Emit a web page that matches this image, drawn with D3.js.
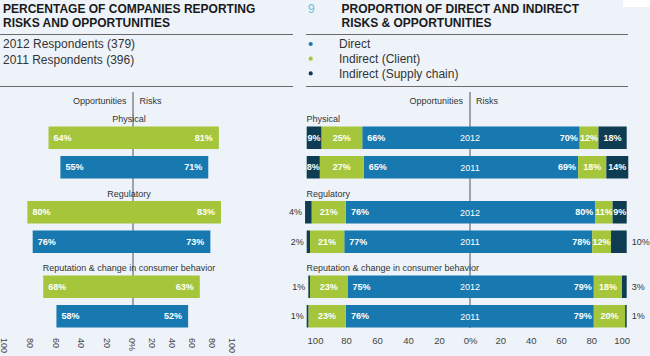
<!DOCTYPE html>
<html><head><meta charset="utf-8">
<script src="https://cdn.jsdelivr.net/npm/d3@7"></script>
<style>
html,body{margin:0;padding:0;background:#edf3f9;}
svg{display:block;font-family:"Liberation Sans",Arial,Helvetica,sans-serif;}
</style></head>
<body><svg id="c" width="650" height="356"></svg>
<script>
// ---------- DATA ----------
const categories = ["Physical", "Regulatory", "Reputation & change in consumer behavior"];
const years = ["2012", "2011"];
const respondents = ["2012 Respondents (379)", "2011 Respondents (396)"];
// Left chart: % of companies reporting
const opportunities2012 = [64, 80, 68];
const risks2012 = [81, 83, 63];
const opportunities2011 = [55, 76, 58];
const risks2011 = [71, 73, 52];
// Right chart: proportion of direct / indirect
const seriesNames = ["Direct", "Indirect (Client)", "Indirect (Supply chain)"];
const oppDirect2012 = [66, 76, 75];
const oppClient2012 = [25, 21, 23];
const oppSupply2012 = [9, 4, 1];
const oppDirect2011 = [65, 77, 76];
const oppClient2011 = [27, 21, 23];
const oppSupply2011 = [8, 2, 1];
const riskDirect2012 = [70, 80, 79];
const riskClient2012 = [12, 11, 18];
const riskSupply2012 = [18, 9, 3];
const riskDirect2011 = [69, 78, 79];
const riskClient2011 = [18, 12, 20];
const riskSupply2011 = [14, 10, 1];
const tickValues = [0, 20, 40, 60, 80, 100];

// ---------- STYLE ----------
const GREEN = "#a5c63b", BLUE = "#1779b0", NAVY = "#0e3c53";
const seriesColors = [BLUE, GREEN, NAVY];
const TXT = "#333", LINE = "#6a6a6a";

const svg = d3.select("#c");
svg.append("rect").attr("width", 650).attr("height", 356).attr("fill", "#edf3f9");
svg.append("rect").attr("x", 623).attr("y", 0).attr("width", 27).attr("height", 7).attr("fill", "#fff");

// ---------- HEADERS ----------
svg.append("text").attr("x", 3).attr("y", 13.2).attr("font-size", 12).attr("font-weight", "bold").attr("fill", "#1a1a1a").text("PERCENTAGE OF COMPANIES REPORTING");
svg.append("text").attr("x", 3).attr("y", 27.2).attr("font-size", 12).attr("font-weight", "bold").attr("fill", "#1a1a1a").text("RISKS AND OPPORTUNITIES");
[34.5, 86.5].forEach(y => svg.append("line").attr("x1", 0).attr("x2", 293).attr("y1", y).attr("y2", y).attr("stroke", LINE));
respondents.forEach((t, i) => svg.append("text").attr("x", 3).attr("y", 48 + i * 16).attr("font-size", 12).attr("fill", TXT).text(t));

svg.append("text").attr("x", 308).attr("y", 13).attr("font-size", 12).attr("fill", "#62c0d8").text("9");
svg.append("text").attr("x", 341.5).attr("y", 13).attr("font-size", 12).attr("font-weight", "bold").attr("fill", "#1a1a1a").text("PROPORTION OF DIRECT AND INDIRECT");
svg.append("text").attr("x", 341.5).attr("y", 27.2).attr("font-size", 12).attr("font-weight", "bold").attr("fill", "#1a1a1a").text("RISKS & OPPORTUNITIES");
[34.5, 86.5].forEach(y => svg.append("line").attr("x1", 306).attr("x2", 628).attr("y1", y).attr("y2", y).attr("stroke", LINE));
seriesNames.forEach((t, i) => {
  const y = 44 + i * 14.7;
  svg.append("circle").attr("cx", 310.7).attr("cy", y).attr("r", 2.1).attr("fill", seriesColors[i]);
  svg.append("text").attr("x", 339).attr("y", y + 4.2).attr("font-size", 12).attr("fill", TXT).text(t);
});

// ---------- SHARED VERTICAL LAYOUT ----------
const yGroup = d3.scaleBand().domain(categories).range([112, 335.5]).paddingInner(0);
const yRow = d3.scaleBand().domain(years).range([14.5, 66.5]).paddingInner(0.237);

// ---------- LEFT CHART ----------
const LC = 133;
const xOppL = d3.scaleLinear().domain([0, 100]).range([LC, LC - 132]);
const xRiskL = d3.scaleLinear().domain([0, 100]).range([LC, LC + 106]);
const axOppL = d3.scaleLinear().domain([0, 100]).range([LC - 1, 4]);
const axRiskL = d3.scaleLinear().domain([0, 100]).range([LC - 1, 232]);

const left = svg.append("g");
left.append("line").attr("x1", LC).attr("x2", LC).attr("y1", 92).attr("y2", 327).attr("stroke", "#555");
left.append("text").attr("x", LC - 6.5).attr("y", 104).attr("text-anchor", "end").attr("font-size", 9).attr("fill", TXT).text("Opportunities");
left.append("text").attr("x", LC + 6.5).attr("y", 104).attr("font-size", 9).attr("fill", TXT).text("Risks");

const leftRows = [];
categories.forEach((c, i) => {
  leftRows.push({cat: c, year: "2012", opp: opportunities2012[i], risk: risks2012[i], color: GREEN});
  leftRows.push({cat: c, year: "2011", opp: opportunities2011[i], risk: risks2011[i], color: BLUE});
});
categories.forEach(c => {
  left.append("text").attr("x", LC - 4).attr("y", yGroup(c) + 10).attr("text-anchor", "middle").attr("font-size", 9).attr("fill", TXT).text(c);
});
leftRows.forEach(r => {
  const y = yGroup(r.cat) + yRow(r.year), h = yRow.bandwidth();
  left.append("rect").attr("x", xOppL(r.opp)).attr("y", y).attr("width", xRiskL(r.risk) - xOppL(r.opp)).attr("height", h).attr("fill", r.color);
  left.append("text").attr("x", xOppL(r.opp) + 5).attr("y", y + h / 2).attr("dy", "0.35em").attr("font-size", 9).attr("font-weight", "bold").attr("fill", "#fff").text(r.opp + "%");
  left.append("text").attr("x", xRiskL(r.risk) - 6).attr("y", y + h / 2).attr("dy", "0.35em").attr("text-anchor", "end").attr("font-size", 9).attr("font-weight", "bold").attr("fill", "#fff").text(r.risk + "%");
});

function styleRotAxis(g) {
  g.select(".domain").remove();
  g.attr("font-size", 9).attr("font-family", "Liberation Sans, Arial, sans-serif");
  g.selectAll("text").attr("fill", "#444").attr("y", 0).attr("x", 0).attr("dy", "0.35em").attr("text-anchor", "start").attr("transform", "rotate(90)");
}
left.append("g").attr("transform", "translate(0,338)")
  .call(d3.axisBottom(axOppL).tickValues(tickValues.filter(v => v > 0)).tickSize(0).tickFormat(d => d))
  .call(styleRotAxis);
left.append("g").attr("transform", "translate(0,338)")
  .call(d3.axisBottom(axRiskL).tickValues(tickValues).tickSize(0).tickFormat(d => d === 0 ? "0%" : d))
  .call(styleRotAxis);

// ---------- RIGHT CHART ----------
const RC = 470;
const xOppR = d3.scaleLinear().domain([0, 100]).range([RC, RC - 163.3]);
const xRiskR = d3.scaleLinear().domain([0, 100]).range([RC, RC + 156.7]);
const axOppR = d3.scaleLinear().domain([0, 100]).range([RC, 315]);
const axRiskR = d3.scaleLinear().domain([0, 100]).range([RC, 621.7]);

const right = svg.append("g");
right.append("line").attr("x1", RC).attr("x2", RC).attr("y1", 92).attr("y2", 328).attr("stroke", "#555");
right.append("text").attr("x", RC - 7).attr("y", 104).attr("text-anchor", "end").attr("font-size", 9).attr("fill", TXT).text("Opportunities");
right.append("text").attr("x", RC + 6).attr("y", 104).attr("font-size", 9).attr("fill", TXT).text("Risks");

const rightRows = [];
categories.forEach((c, i) => {
  rightRows.push({cat: c, year: "2012", opp: [oppDirect2012[i], oppClient2012[i], oppSupply2012[i]], risk: [riskDirect2012[i], riskClient2012[i], riskSupply2012[i]]});
  rightRows.push({cat: c, year: "2011", opp: [oppDirect2011[i], oppClient2011[i], oppSupply2011[i]], risk: [riskDirect2011[i], riskClient2011[i], riskSupply2011[i]]});
});
categories.forEach(c => {
  right.append("text").attr("x", 306.5).attr("y", yGroup(c) + 10).attr("font-size", 9).attr("fill", TXT).text(c);
});

function drawSide(row, vals, scale, dir) {
  const y = yGroup(row.cat) + yRow(row.year), h = yRow.bandwidth();
  let cum = 0;
  vals.forEach((v, k) => {
    const a = scale(cum), b = scale(cum + v);
    cum += v;
    const x0 = Math.min(a, b), w = Math.abs(b - a);
    right.append("rect").attr("x", x0).attr("y", y).attr("width", w).attr("height", h).attr("fill", seriesColors[k]);
    const t = right.append("text").attr("y", y + h / 2).attr("dy", "0.35em").attr("font-size", 9).attr("font-weight", "bold").attr("fill", "#fff").text(v + "%");
    if (k === 0) {
      if (dir < 0) t.attr("x", b + 5).attr("text-anchor", "start");
      else t.attr("x", b - 2).attr("text-anchor", "end");
    } else {
      t.attr("x", x0 + w / 2).attr("text-anchor", "middle");
      const tw = t.node().getComputedTextLength();
      if (tw > w + 1) {
        t.attr("font-weight", "normal").attr("fill", TXT);
        if (dir < 0) t.attr("x", b - 3).attr("text-anchor", "end");
        else t.attr("x", b + 5).attr("text-anchor", "start");
      }
    }
  });
}
rightRows.forEach(r => {
  drawSide(r, r.opp, xOppR, -1);
  drawSide(r, r.risk, xRiskR, 1);
  const y = yGroup(r.cat) + yRow(r.year) + yRow.bandwidth() / 2;
  right.append("text").attr("x", RC).attr("y", y).attr("dy", "0.4em").attr("text-anchor", "middle").attr("font-size", 9).attr("fill", "#fff").text(r.year);
});

function styleAxis(g) {
  g.select(".domain").remove();
  g.attr("font-size", 9.5).attr("font-family", "Liberation Sans, Arial, sans-serif");
  g.selectAll("text").attr("fill", "#444").attr("y", 0).attr("dy", "0.35em");
}
right.append("g").attr("transform", "translate(0,341)")
  .call(d3.axisBottom(axOppR).tickValues(tickValues.filter(v => v > 0)).tickSize(0).tickFormat(d => d))
  .call(styleAxis);
right.append("g").attr("transform", "translate(0,341)")
  .call(d3.axisBottom(axRiskR).tickValues(tickValues).tickSize(0).tickFormat(d => d === 0 ? "0%" : d))
  .call(styleAxis);
</script></body></html>
